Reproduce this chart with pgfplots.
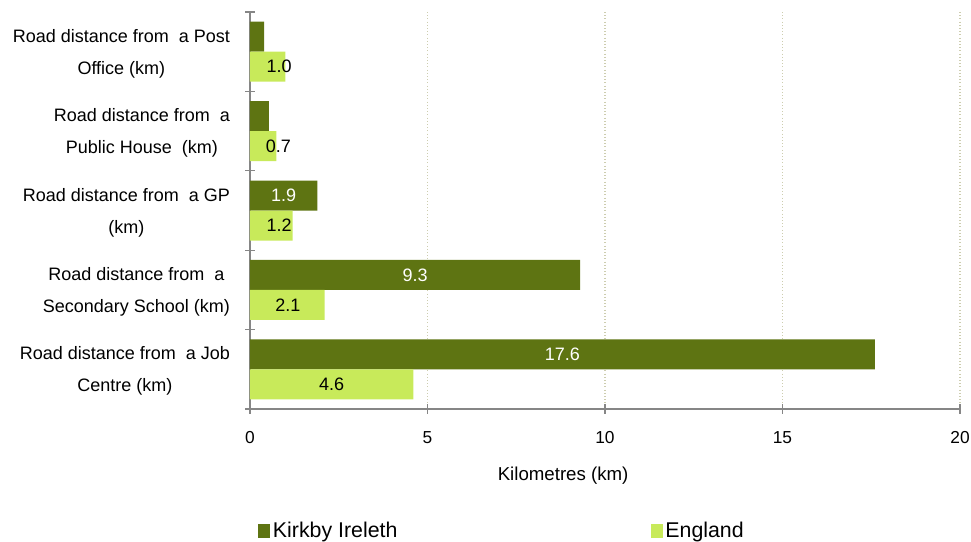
\documentclass[border=0pt]{standalone}
\usepackage{fontspec}
\setmainfont{Liberation Sans}
\usepackage{pgfplots}
\pgfplotsset{compat=1.18}
\definecolor{kirkby}{RGB}{94,116,18}
\definecolor{england}{RGB}{200,234,90}
\definecolor{axisgray}{RGB}{134,134,134}
\definecolor{gridc}{RGB}{205,205,175}
\begin{document}
\begin{tikzpicture}
\useasboundingbox (-187.5pt,-99.75pt) rectangle (540.75pt,306.75pt);
\begin{axis}[
  at={(0pt,0pt)}, anchor=south west,
  scale only axis, width=532.5pt, height=297.75pt,
  xmin=0, xmax=20, ymin=-0.5, ymax=4.5, y dir=reverse,
  axis x line=bottom, axis y line=left,
  axis line style={draw=axisgray, line width=0.9pt, -},
  xtick={0,5,10,15,20},
  xmajorgrids, grid style={gridc, dotted, line width=1pt},
  ytick={0,1,2,3,4},
  yticklabels={
    {Road distance from\ \ a Post\\Office (km)},
    {Road distance from\ \ a\\Public House\ \ (km)},
    {Road distance from\ \ a GP\\(km)},
    {Road distance from\ \ a\\Secondary School (km)},
    {Road distance from\ \ a Job\\Centre (km)}},
  minor ytick={-0.5,0.5,1.5,2.5,3.5,4.5},
  tick align=center, major tick length=7pt, minor tick length=7pt,
  major y tick style={draw=none},
  xtick style={draw=axisgray, line width=0.9pt},
  minor y tick style={draw=axisgray, line width=0.9pt},
  /pgf/number format/assume math mode=true,
  xticklabel style={font=\fontsize{13}{15}\selectfont, yshift=-10pt},
  yticklabel style={font=\fontsize{13.5}{24}\selectfont, align=center, anchor=east, xshift=-8pt, yshift=-1.5pt},
  xlabel={Kilometres (km)},
  xlabel style={font=\fontsize{14}{16}\selectfont, at={(axis description cs:0.441,-0.168)}, anchor=center},
  legend style={at={(axis description cs:0.0113,-0.307)}, anchor=west, draw=none,
    legend columns=2, font=\fontsize{16}{18}\selectfont, inner sep=0pt,
    /tikz/every even column/.style={column sep=188pt}},
  legend cell align=left,
  legend image code/.code={\fill[#1] (0pt,-5.25pt) rectangle (9pt,5.25pt);},
]
\addplot[xbar, bar width=22.5pt, bar shift=11.25pt, fill=kirkby, draw=none] table {
x y
0.4 0
0.53 1
1.9 2
9.3 3
17.6 4
};
\addlegendentry{Kirkby Ireleth}
\addplot[xbar, bar width=22.5pt, bar shift=-11.25pt, fill=england, draw=none] table {
x y
1.0 0
0.74 1
1.2 2
2.1 3
4.6 4
};
\addlegendentry{England}
\addplot[forget plot, draw=none, mark=none, nodes near coords, point meta=explicit symbolic,
  nodes near coords align=center,
  every node near coord/.append style={text=white, font=\fontsize{13.5}{15}\selectfont}] table[meta=lab] {
x y lab
0.95 1.811 1.9
4.65 2.811 9.3
8.8 3.811 17.6
};
\addplot[forget plot, draw=none, mark=none, nodes near coords, point meta=explicit symbolic,
  nodes near coords align=center,
  every node near coord/.append style={text=black, font=\fontsize{13.5}{15}\selectfont}] table[meta=lab] {
x y lab
0.82 0.189 1.0
0.80 1.189 0.7
0.82 2.189 1.2
1.07 3.189 2.1
2.3 4.189 4.6
};
\end{axis}
\end{tikzpicture}
\end{document}
